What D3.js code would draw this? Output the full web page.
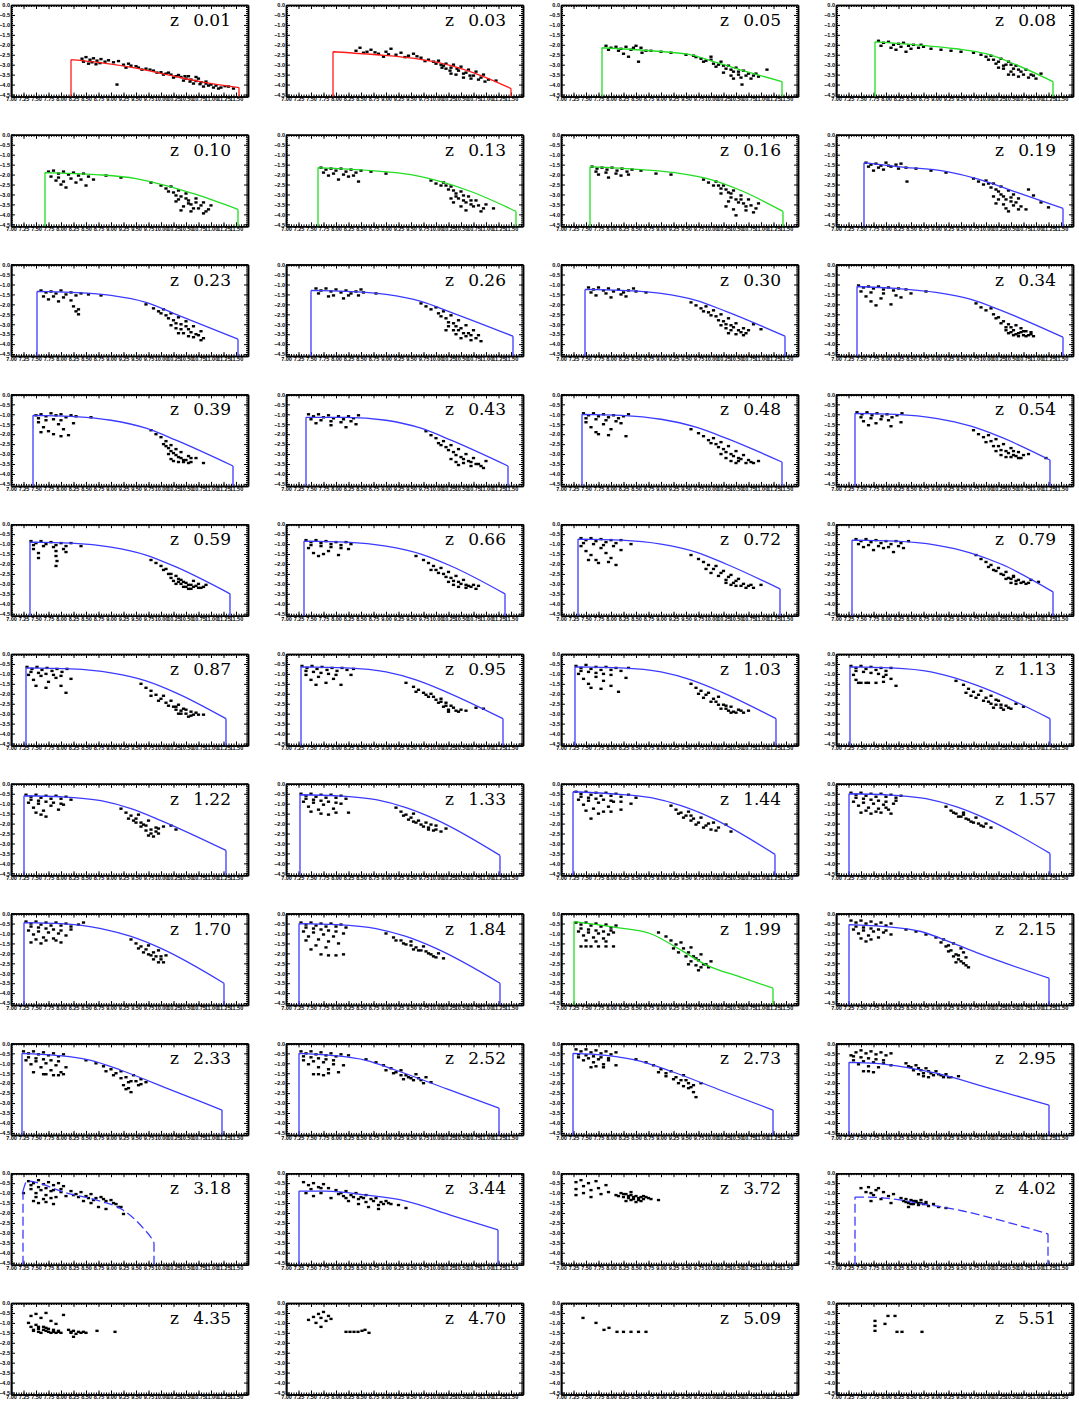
<!DOCTYPE html>
<html>
<head>
<meta charset="utf-8">
<script src="https://cdn.jsdelivr.net/npm/d3@7"></script>
<style>
body { margin: 0; background: #fff; }
</style>
</head>
<body>
<div id="chart"></div>
<script>
// redshift of each panel
const zLabels = ["0.01","0.03","0.05","0.08","0.10","0.13","0.16","0.19","0.23","0.26","0.30","0.34",
  "0.39","0.43","0.48","0.54","0.59","0.66","0.72","0.79","0.87","0.95","1.03","1.13",
  "1.22","1.33","1.44","1.57","1.70","1.84","1.99","2.15","2.33","2.52","2.73","2.95",
  "3.18","3.44","3.72","4.02","4.35","4.70","5.09","5.51"];

// which fit set the curve belongs to ("" = no fit)
const fitSet = ["A","A","B","B","B","B","B","C","C","C","C","C",
  "C","C","C","C","C","C","C","C","C","C","C","C",
  "C","C","C","C","C","C","B","C","C","C","C","C",
  "C","C","","C","","","",""];
const fitDashed = [36, 39];

const xTicks = [7,7.25,7.5,7.75,8,8.25,8.5,8.75,9,9.25,9.5,9.75,10,10.25,10.5,10.75,11,11.25,11.5];
const yTicks = [0,-0.5,-1,-1.5,-2,-2.5,-3,-3.5,-4,-4.5];

const fitCurves = [
  [[8.20,-2.75],[8.78,-2.90],[9.44,-3.15],[10.12,-3.50],[10.78,-3.85],[11.56,-4.15]],
  [[7.94,-2.35],[8.80,-2.50],[9.60,-2.70],[10.30,-3.05],[10.90,-3.55],[11.50,-4.20]],
  [[7.82,-2.15],[8.78,-2.30],[9.58,-2.50],[10.12,-2.90],[10.78,-3.40],[11.42,-3.85]],
  [[7.78,-1.85],[8.60,-2.00],[9.40,-2.20],[10.00,-2.45],[10.60,-3.00],[11.34,-3.85]],
  [[7.68,-1.90],[8.70,-2.00],[9.50,-2.20],[10.10,-2.55],[10.70,-3.00],[11.54,-3.75]],
  [[7.64,-1.65],[8.70,-1.80],[9.50,-2.00],[10.10,-2.35],[10.70,-2.85],[11.60,-3.85]],
  [[7.58,-1.60],[8.60,-1.75],[9.40,-1.95],[10.00,-2.25],[10.60,-2.80],[11.44,-3.85]],
  [[7.56,-1.40],[8.22,-1.60],[9.22,-1.85],[9.88,-2.25],[10.62,-2.90],[11.54,-3.70]],
  [[7.52,-1.35],[8.20,-1.40],[9.00,-1.55],[9.70,-1.90],[10.30,-2.50],[11.54,-3.75]],
  [[7.50,-1.30],[8.20,-1.35],[9.00,-1.50],[9.70,-1.85],[10.30,-2.40],[11.54,-3.60]],
  [[7.48,-1.25],[8.20,-1.30],[9.00,-1.45],[9.70,-1.80],[10.30,-2.35],[11.48,-3.60]],
  [[7.42,-1.10],[8.20,-1.20],[9.00,-1.40],[9.70,-1.75],[10.30,-2.30],[11.54,-3.65]],
  [[7.44,-1.05],[8.20,-1.10],[9.00,-1.30],[9.70,-1.70],[10.30,-2.30],[11.44,-3.60]],
  [[7.40,-1.15],[8.20,-1.15],[9.00,-1.30],[9.70,-1.70],[10.30,-2.30],[11.44,-3.60]],
  [[7.42,-1.00],[8.20,-1.05],[9.00,-1.25],[9.70,-1.65],[10.30,-2.20],[11.42,-3.40]],
  [[7.38,-0.95],[8.20,-1.00],[9.00,-1.20],[9.70,-1.60],[10.30,-2.15],[11.28,-3.30]],
  [[7.38,-0.90],[8.20,-0.95],[9.00,-1.15],[9.70,-1.55],[10.30,-2.15],[11.38,-3.50]],
  [[7.36,-0.85],[8.20,-0.90],[9.00,-1.10],[9.70,-1.50],[10.30,-2.10],[11.38,-3.50]],
  [[7.34,-0.75],[8.20,-0.80],[9.00,-1.00],[9.70,-1.40],[10.30,-2.00],[11.38,-3.25]],
  [[7.32,-0.80],[8.20,-0.85],[9.00,-1.05],[9.70,-1.45],[10.30,-2.00],[11.34,-3.40]],
  [[7.30,-0.70],[8.20,-0.75],[9.00,-0.95],[9.70,-1.35],[10.30,-1.95],[11.30,-3.25]],
  [[7.30,-0.65],[8.20,-0.70],[9.00,-0.90],[9.60,-1.30],[10.20,-1.90],[11.34,-3.25]],
  [[7.28,-0.65],[8.20,-0.70],[9.00,-0.90],[9.60,-1.30],[10.20,-1.90],[11.30,-3.25]],
  [[7.28,-0.65],[8.10,-0.70],[8.90,-0.90],[9.50,-1.30],[10.10,-1.85],[11.28,-3.25]],
  [[7.26,-0.60],[8.00,-0.65],[8.80,-0.85],[9.40,-1.25],[10.00,-1.85],[11.30,-3.35]],
  [[7.28,-0.55],[8.00,-0.60],[8.80,-0.80],[9.40,-1.20],[10.00,-1.80],[11.28,-3.60]],
  [[7.24,-0.40],[8.00,-0.50],[8.80,-0.70],[9.40,-1.10],[10.00,-1.70],[11.28,-3.55]],
  [[7.26,-0.50],[8.00,-0.55],[8.80,-0.75],[9.40,-1.15],[10.00,-1.75],[11.28,-3.50]],
  [[7.26,-0.45],[8.00,-0.50],[8.80,-0.75],[9.40,-1.15],[10.00,-1.75],[11.26,-3.50]],
  [[7.26,-0.50],[8.00,-0.55],[8.80,-0.75],[9.40,-1.15],[10.00,-1.75],[11.28,-3.50]],
  [[7.26,-0.40],[8.12,-0.70],[8.78,-1.00],[9.44,-1.90],[9.92,-2.60],[10.58,-3.18],[11.24,-3.75]],
  [[7.26,-0.55],[8.00,-0.65],[8.70,-0.90],[9.30,-1.45],[9.80,-1.95],[11.26,-3.25]],
  [[7.22,-0.50],[7.90,-0.60],[8.60,-0.85],[9.20,-1.35],[10.21,-2.35],[11.22,-3.35]],
  [[7.26,-0.50],[7.90,-0.60],[8.60,-0.85],[9.20,-1.35],[10.23,-2.30],[11.26,-3.25]],
  [[7.24,-0.50],[7.90,-0.60],[8.60,-0.90],[9.20,-1.40],[10.22,-2.38],[11.24,-3.35]],
  [[7.26,-0.95],[7.80,-1.00],[8.40,-1.20],[9.00,-1.50],[10.13,-2.30],[11.26,-3.10]],
  [[7.24,-0.90],[7.32,-0.40],[8.12,-1.00],[8.78,-1.40],[9.24,-1.85],[9.64,-2.75],[9.84,-3.40],[9.86,-3.50]],
  [[7.26,-0.90],[7.80,-0.90],[8.60,-1.10],[9.40,-1.40],[10.32,-2.13],[11.24,-2.85]],
  null,
  [[7.38,-1.20],[7.62,-1.20],[8.88,-1.60],[9.54,-1.90],[10.62,-2.60],[11.24,-3.05]],
  null, null, null, null
];

// galaxy points per panel, flattened as x,y,x,y,...
const galaxyPoints = [
  [8.42,-2.70,8.50,-2.62,8.58,-2.75,8.65,-2.68,8.72,-2.80,8.80,-2.72,8.88,-2.85,8.95,-2.78,8.55,-2.95,8.70,-2.98,9.05,-2.88,9.15,-2.82,
   9.25,-3.00,9.40,-3.05,9.55,-3.15,9.70,-3.20,9.85,-3.30,10.00,-3.38,10.10,-3.45,10.20,-3.50,10.30,-3.58,10.40,-3.62,10.50,-3.70,10.60,-3.75,
   10.70,-3.82,10.80,-3.88,10.90,-3.95,11.00,-4.00,11.10,-4.05,10.25,-3.65,10.45,-3.80,10.65,-3.95,10.85,-4.10,11.05,-4.15,11.20,-4.15,
   11.35,-4.10,11.45,-4.20,10.55,-3.58,10.75,-3.70,9.30,-3.15,9.12,-4.00,
   8.45,-2.85,8.62,-2.88,8.78,-2.92,9.35,-2.95,9.50,-3.08,9.62,-3.25,9.78,-3.25,9.92,-3.40,10.05,-3.50,10.15,-3.40,10.35,-3.52,10.48,-3.58,
   10.58,-3.85,10.78,-3.98,10.95,-4.05,11.15,-4.20,11.28,-4.08,10.90,-3.85,10.70,-3.62],
  [8.40,-2.30,8.55,-2.40,8.70,-2.25,8.85,-2.45,9.00,-2.35,9.10,-2.20,9.20,-2.50,9.30,-2.40,9.45,-2.55,9.55,-2.45,8.95,-2.60,9.70,-2.65,
   9.85,-2.75,9.95,-2.85,10.05,-2.80,10.10,-3.00,10.20,-2.95,10.30,-3.15,10.35,-3.00,10.45,-3.30,10.50,-3.10,10.60,-3.40,10.65,-3.25,
   10.75,-3.55,10.80,-3.35,10.90,-3.65,10.95,-3.50,11.05,-3.75,10.40,-3.50,10.70,-3.70,10.20,-3.20,11.20,-3.80,
   8.48,-2.15,8.62,-2.35,8.78,-2.38,9.05,-2.48,9.38,-2.62,9.62,-2.58,9.78,-2.82,10.00,-2.95,10.12,-3.15,10.28,-3.30,10.42,-3.20,10.55,-3.45,
   10.68,-3.55,10.85,-3.75,10.98,-3.85,10.55,-3.65,10.30,-3.45,10.15,-3.05],
  [7.90,-2.05,8.00,-2.15,8.10,-2.10,8.20,-2.20,8.30,-2.10,8.40,-2.25,8.50,-2.05,8.60,-2.15,8.70,-2.30,8.25,-2.45,8.35,-2.60,8.55,-2.85,
   8.80,-2.30,9.00,-2.35,9.20,-2.40,9.50,-2.50,9.65,-2.55,9.80,-2.70,9.90,-2.80,10.00,-2.75,10.05,-2.95,10.15,-3.00,10.20,-2.85,10.30,-3.20,
   10.35,-3.05,10.45,-3.35,10.50,-3.15,10.55,-3.50,10.65,-3.30,10.75,-3.45,10.85,-3.55,10.95,-3.60,10.62,-4.00,11.12,-3.25,10.40,-3.55,
   7.95,-2.25,8.15,-2.30,8.45,-2.15,8.62,-2.40,9.70,-2.62,9.85,-2.85,10.10,-3.10,10.25,-3.05,10.40,-3.25,10.55,-3.35,10.60,-3.65,10.70,-3.55,
   10.80,-3.70,10.45,-3.70,10.25,-3.40,10.90,-3.45,10.00,-2.60],
  [7.85,-1.80,7.95,-1.90,8.05,-1.85,8.15,-2.00,8.25,-1.95,8.35,-1.90,8.45,-2.05,8.55,-2.00,8.65,-2.15,8.75,-2.10,8.20,-2.25,8.40,-2.35,
   8.90,-2.20,9.10,-2.25,9.30,-2.30,9.50,-2.35,9.75,-2.40,9.90,-2.50,10.00,-2.60,10.10,-2.55,10.15,-2.75,10.25,-2.85,10.30,-2.70,10.40,-3.00,
   10.45,-2.85,10.55,-3.20,10.60,-3.05,10.70,-3.35,10.80,-3.25,10.90,-3.50,10.35,-3.20,10.65,-3.60,11.00,-3.70,11.10,-3.45,
   7.90,-2.05,8.10,-2.15,8.30,-2.10,8.50,-2.20,8.70,-2.00,10.05,-2.75,10.20,-2.95,10.35,-3.05,10.50,-3.00,10.50,-3.35,10.65,-3.25,10.75,-3.50,
   10.85,-3.65,10.95,-3.55,10.55,-3.50,10.25,-3.15,10.45,-3.50],
  [7.75,-1.85,7.85,-1.80,7.95,-1.95,8.05,-1.85,8.15,-2.00,8.25,-1.90,8.35,-2.05,8.45,-1.95,8.55,-2.10,7.90,-2.30,8.00,-2.50,8.10,-2.65,
   8.30,-2.40,8.50,-2.55,8.65,-2.25,8.90,-2.05,9.20,-2.15,9.80,-2.40,10.00,-2.55,10.10,-2.70,10.20,-2.60,10.25,-2.90,10.35,-2.80,10.40,-3.10,
   10.50,-2.95,10.55,-3.30,10.60,-3.50,10.70,-3.20,10.75,-3.70,10.85,-3.40,10.45,-3.60,10.30,-3.35,10.90,-3.85,11.00,-3.55,
   7.80,-2.10,7.95,-2.15,8.05,-2.35,8.20,-2.20,8.40,-2.25,10.15,-2.85,10.30,-3.05,10.35,-3.25,10.50,-3.20,10.55,-3.45,10.65,-3.70,10.70,-3.40,
   10.80,-3.55,10.60,-3.85,10.40,-3.80,10.85,-3.95,10.95,-3.75],
  [7.70,-1.65,7.80,-1.75,7.90,-1.70,8.00,-1.80,8.10,-1.70,8.20,-1.85,8.30,-1.75,8.40,-1.90,8.50,-1.80,7.85,-2.05,8.05,-2.25,8.25,-2.10,
   8.45,-2.35,8.70,-1.85,9.00,-1.95,9.90,-2.30,10.00,-2.45,10.10,-2.55,10.15,-2.40,10.25,-2.75,10.30,-2.60,10.40,-2.95,10.45,-3.20,
   10.50,-2.85,10.60,-3.40,10.65,-3.10,10.75,-3.60,10.80,-3.30,10.90,-3.85,11.00,-3.50,11.15,-3.70,10.35,-3.40,
   7.75,-1.90,7.95,-1.95,8.15,-2.00,8.35,-2.05,10.20,-2.55,10.35,-2.80,10.40,-3.10,10.55,-3.05,10.55,-3.30,10.70,-3.30,10.70,-3.50,
   10.85,-3.55,10.50,-3.60,10.30,-3.20,10.95,-3.70,10.60,-3.80],
  [7.62,-1.60,7.72,-1.70,7.82,-1.65,7.92,-1.75,8.02,-1.65,8.12,-1.80,8.22,-1.70,8.32,-1.85,8.42,-1.75,7.75,-2.00,7.95,-2.15,8.20,-2.05,
   8.60,-1.80,8.90,-1.95,9.20,-2.00,9.85,-2.25,9.95,-2.40,10.05,-2.55,10.10,-2.35,10.20,-2.70,10.25,-2.55,10.35,-2.90,10.40,-3.15,
   10.45,-2.80,10.55,-3.40,10.60,-3.05,10.70,-3.60,10.75,-3.25,10.85,-3.90,10.95,-3.45,10.30,-3.60,10.50,-4.05,
   7.70,-1.85,7.90,-1.90,8.10,-1.95,8.35,-2.00,10.15,-2.55,10.30,-2.75,10.40,-2.95,10.50,-3.25,10.60,-3.25,10.65,-3.45,10.80,-3.55,
   10.70,-3.80,10.45,-3.75,10.35,-3.35,10.90,-3.70,10.20,-2.95],
  [7.60,-1.40,7.70,-1.50,7.80,-1.45,7.90,-1.55,8.00,-1.40,8.10,-1.60,8.20,-1.50,8.30,-1.45,8.40,-1.65,7.75,-1.80,7.95,-1.75,8.42,-2.35,
   8.60,-1.70,8.90,-1.80,9.20,-1.90,9.75,-2.20,9.85,-2.35,9.95,-2.50,10.00,-2.30,10.10,-2.65,10.15,-2.45,10.25,-2.85,10.30,-2.60,
   10.35,-3.10,10.45,-2.80,10.50,-3.35,10.55,-3.00,10.65,-3.20,10.70,-3.60,10.20,-3.45,10.40,-3.70,10.85,-2.75,10.95,-3.05,11.10,-3.40,
   11.25,-3.65,10.80,-3.75,
   7.65,-1.60,7.85,-1.65,8.05,-1.55,8.25,-1.70,10.05,-2.45,10.20,-2.75,10.30,-3.00,10.40,-3.25,10.50,-3.15,10.55,-3.55,10.60,-3.40,
   10.25,-3.25,10.35,-3.50,10.45,-3.85,10.65,-3.75,10.15,-3.10],
  [7.60,-1.30,7.70,-1.40,7.80,-1.35,7.90,-1.45,8.00,-1.30,8.10,-1.50,8.20,-1.40,8.30,-1.55,8.40,-1.45,7.75,-1.75,7.95,-1.85,8.25,-2.10,
   8.30,-2.35,8.35,-2.50,8.55,-1.50,8.80,-1.55,9.70,-2.00,9.85,-2.20,9.95,-2.35,10.05,-2.25,10.10,-2.55,10.20,-2.45,10.25,-2.80,10.35,-2.65,
   10.40,-3.00,10.50,-2.85,10.55,-3.25,10.65,-3.10,10.70,-3.50,10.80,-3.35,10.85,-3.70,10.45,-3.45,10.30,-3.20,
   7.65,-1.60,7.85,-1.60,8.05,-1.65,8.20,-1.80,8.35,-2.25,10.00,-2.45,10.15,-2.70,10.30,-2.95,10.40,-3.25,10.50,-3.10,10.60,-3.40,
   10.65,-3.65,10.75,-3.55,10.55,-3.60,10.35,-3.45,10.20,-3.05,10.80,-3.80],
  [7.60,-1.20,7.70,-1.30,7.80,-1.20,7.90,-1.35,8.00,-1.25,8.10,-1.40,8.20,-1.30,8.30,-1.45,8.40,-1.35,8.50,-1.25,7.85,-1.60,8.15,-1.70,
   8.45,-1.55,8.80,-1.45,9.70,-1.95,9.80,-2.10,9.90,-2.25,10.00,-2.15,10.05,-2.45,10.15,-2.35,10.20,-2.70,10.30,-2.55,10.35,-2.95,
   10.45,-2.80,10.50,-3.20,10.60,-3.05,10.65,-3.45,10.75,-3.30,10.80,-3.70,10.90,-3.85,10.40,-3.50,10.25,-3.10,
   7.65,-1.45,7.95,-1.55,8.25,-1.55,8.55,-1.40,10.10,-2.60,10.25,-2.90,10.40,-3.10,10.45,-3.30,10.55,-3.45,10.60,-3.60,10.70,-3.55,
   10.70,-3.80,10.35,-3.30,10.50,-3.70,10.20,-3.30,10.85,-3.55],
  [7.55,-1.15,7.65,-1.25,7.75,-1.15,7.85,-1.30,7.95,-1.20,8.05,-1.35,8.15,-1.25,8.25,-1.40,8.35,-1.30,8.45,-1.20,7.70,-1.55,8.00,-1.65,
   8.30,-1.60,8.70,-1.40,9.60,-1.90,9.70,-2.05,9.80,-2.20,9.90,-2.10,9.95,-2.40,10.05,-2.30,10.10,-2.60,10.20,-2.50,10.25,-2.85,10.35,-2.70,
   10.40,-3.05,10.50,-2.95,10.55,-3.30,10.65,-3.20,10.70,-3.45,10.30,-3.20,10.85,-3.00,11.00,-3.25,
   7.60,-1.40,7.90,-1.45,8.20,-1.50,8.50,-1.35,9.85,-2.35,10.00,-2.55,10.15,-2.80,10.30,-3.00,10.40,-3.30,10.45,-3.15,10.60,-3.40,
   10.50,-3.50,10.35,-3.45,10.75,-3.30,10.20,-3.05,10.65,-3.55],
  [7.45,-1.05,7.55,-1.15,7.65,-1.10,7.75,-1.20,7.85,-1.10,7.95,-1.25,8.05,-1.15,8.15,-1.30,8.25,-1.20,8.40,-1.25,7.60,-1.60,7.70,-1.85,
   7.90,-1.70,8.10,-2.00,8.30,-1.65,8.50,-1.45,8.80,-1.35,9.80,-1.95,9.90,-2.15,10.00,-2.30,10.10,-2.20,10.15,-2.50,10.25,-2.65,10.35,-2.85,
   10.45,-3.00,10.50,-3.15,10.55,-3.30,10.60,-3.05,10.65,-3.45,10.70,-3.20,10.75,-3.55,10.80,-3.35,10.90,-3.50,10.95,-3.60,10.40,-3.30,
   7.50,-1.35,7.70,-1.40,7.95,-1.45,8.20,-1.55,7.80,-2.05,10.20,-2.70,10.30,-2.95,10.40,-3.15,10.50,-3.40,10.60,-3.50,10.70,-3.40,
   10.75,-3.35,10.85,-3.55,10.65,-3.60,10.80,-3.60,10.55,-3.55,10.45,-3.45,10.90,-3.40],
  [7.50,-1.05,7.60,-1.00,7.70,-1.10,7.80,-0.95,7.90,-1.05,8.00,-1.00,8.10,-1.15,8.20,-1.05,8.30,-1.10,7.55,-1.40,7.65,-1.65,7.75,-1.85,
   7.95,-1.50,8.05,-1.75,8.15,-2.05,8.25,-1.45,8.60,-1.15,9.80,-1.80,9.90,-2.00,10.00,-2.15,10.05,-2.50,10.10,-2.35,10.15,-2.70,10.20,-2.55,
   10.25,-2.95,10.30,-2.75,10.35,-3.15,10.40,-2.90,10.45,-3.30,10.55,-3.10,10.60,-3.40,10.20,-3.25,10.70,-3.20,10.85,-3.45,
   7.55,-1.20,7.70,-1.30,7.85,-1.25,8.00,-1.30,7.60,-1.90,7.85,-2.00,8.00,-2.10,10.10,-2.60,10.20,-2.85,10.30,-3.05,10.40,-3.20,10.50,-3.30,
   10.25,-3.35,10.45,-3.40,10.35,-3.40,10.55,-3.45,10.15,-3.00,10.60,-3.20],
  [7.45,-1.00,7.55,-1.10,7.65,-1.00,7.75,-1.15,7.85,-1.05,7.95,-1.20,8.05,-1.10,8.15,-1.25,8.25,-1.10,8.35,-1.20,8.45,-1.05,7.60,-1.45,
   7.90,-1.55,8.20,-1.65,8.40,-1.50,9.80,-1.85,9.90,-2.05,10.00,-2.20,10.05,-2.45,10.15,-2.35,10.20,-2.65,10.30,-2.55,10.35,-2.90,
   10.45,-2.75,10.50,-3.15,10.60,-3.00,10.65,-3.35,10.75,-3.20,10.80,-3.50,10.90,-3.60,10.40,-3.40,11.00,-3.35,
   7.50,-1.25,7.70,-1.30,7.90,-1.35,8.10,-1.40,8.30,-1.35,10.10,-2.55,10.25,-2.80,10.40,-3.05,10.55,-3.25,10.55,-3.45,10.70,-3.40,
   10.70,-3.60,10.45,-3.55,10.30,-3.25,10.85,-3.50,10.95,-3.70],
  [7.45,-0.95,7.55,-1.05,7.65,-0.95,7.75,-1.10,7.85,-1.00,7.95,-1.15,8.05,-1.05,8.15,-1.20,8.25,-1.10,8.35,-1.00,7.50,-1.40,7.60,-1.65,
   7.70,-1.90,7.85,-1.50,8.00,-1.75,8.20,-1.45,8.30,-2.10,9.60,-1.75,9.75,-1.95,9.85,-2.10,9.95,-2.30,10.05,-2.20,10.10,-2.50,10.20,-2.40,
   10.25,-2.75,10.35,-2.60,10.40,-3.00,10.50,-2.85,10.55,-3.20,10.65,-3.05,10.75,-3.30,10.85,-3.45,10.30,-3.20,10.95,-3.35,
   7.50,-1.20,7.70,-1.25,7.90,-1.30,8.10,-1.35,7.75,-2.00,7.95,-2.05,10.00,-2.45,10.15,-2.65,10.30,-2.90,10.45,-3.10,10.55,-3.35,
   10.60,-3.25,10.70,-3.45,10.40,-3.35,10.50,-3.45,10.80,-3.40,10.20,-3.00],
  [7.42,-0.90,7.52,-1.00,7.62,-0.90,7.72,-1.05,7.82,-0.95,7.92,-1.10,8.02,-1.00,8.12,-1.15,8.22,-1.05,8.32,-0.95,7.55,-1.35,7.80,-1.45,
   8.10,-1.60,8.30,-1.40,9.75,-1.80,9.85,-2.00,9.95,-2.15,10.05,-2.05,10.10,-2.35,10.20,-2.25,10.25,-2.60,10.35,-2.50,10.40,-2.85,
   10.50,-2.70,10.55,-3.05,10.65,-2.90,10.70,-3.20,10.40,-3.15,10.85,-3.00,11.20,-3.20,
   7.50,-1.15,7.70,-1.20,7.90,-1.25,8.05,-1.30,7.65,-1.55,10.00,-2.40,10.15,-2.60,10.30,-2.80,10.45,-2.95,10.60,-3.10,10.50,-3.15,
   10.65,-3.20,10.30,-3.05,10.75,-3.05,10.20,-2.85,10.55,-2.85],
  [7.40,-0.85,7.50,-0.95,7.60,-0.85,7.70,-1.00,7.80,-0.90,7.90,-1.05,8.00,-0.95,8.10,-1.10,8.20,-0.95,7.45,-1.25,7.55,-1.45,7.90,-1.35,
   7.90,-1.60,7.92,-1.85,7.90,-2.10,8.10,-1.40,8.40,-1.10,9.80,-1.80,9.90,-1.95,10.00,-2.10,10.10,-2.25,10.15,-2.50,10.20,-2.70,10.25,-2.85,
   10.35,-2.75,10.40,-3.00,10.45,-2.90,10.50,-3.15,10.55,-3.05,10.60,-3.25,10.70,-3.10,10.75,-3.20,10.85,-3.15,10.30,-3.00,10.65,-2.85,
   7.45,-1.05,7.65,-1.10,7.85,-1.15,8.05,-1.25,7.55,-1.70,10.05,-2.30,10.20,-2.50,10.30,-2.60,10.40,-2.80,10.50,-2.95,10.60,-3.05,
   10.65,-3.15,10.80,-3.20,10.90,-3.05,10.45,-3.15,10.55,-3.25,10.75,-3.00,10.35,-2.90],
  [7.40,-0.80,7.50,-0.90,7.60,-0.80,7.70,-0.95,7.80,-0.85,7.90,-1.00,8.00,-0.90,8.10,-1.05,8.20,-0.90,8.30,-1.00,7.45,-1.20,7.55,-1.45,
   7.65,-1.60,7.85,-1.35,8.05,-1.55,8.25,-1.25,9.60,-1.60,9.75,-1.80,9.85,-1.95,9.95,-2.10,10.00,-2.30,10.10,-2.20,10.15,-2.50,10.25,-2.40,
   10.30,-2.70,10.40,-2.60,10.45,-2.90,10.55,-2.80,10.60,-3.05,10.70,-3.15,10.35,-3.05,10.80,-3.25,
   7.50,-1.05,7.70,-1.10,7.90,-1.15,8.10,-1.20,7.75,-1.50,9.90,-2.30,10.05,-2.45,10.20,-2.65,10.35,-2.85,10.50,-3.00,10.65,-3.10,
   10.45,-3.15,10.60,-3.20,10.75,-3.05,10.25,-2.90,10.85,-3.10],
  [7.40,-0.70,7.50,-0.80,7.60,-0.70,7.70,-0.85,7.80,-0.75,7.90,-0.90,8.00,-0.80,8.10,-0.95,8.20,-0.80,7.40,-1.10,7.50,-1.35,7.60,-1.55,
   7.70,-1.80,7.80,-1.20,7.90,-1.45,8.00,-1.70,8.10,-2.05,8.20,-1.30,8.40,-1.00,9.60,-1.55,9.75,-1.75,9.85,-1.90,9.95,-2.05,10.05,-2.25,
   10.10,-2.10,10.20,-2.45,10.25,-2.35,10.35,-2.65,10.40,-2.55,10.50,-2.85,10.55,-2.75,10.65,-3.00,10.75,-3.10,10.85,-3.20,10.30,-2.95,11.00,-3.05,
   7.45,-0.95,7.65,-1.00,7.85,-1.05,8.05,-1.10,7.55,-1.80,7.75,-1.95,7.95,-1.90,9.90,-2.25,10.00,-2.45,10.15,-2.60,10.30,-2.80,10.45,-2.95,
   10.60,-3.10,10.70,-3.20,10.50,-3.10,10.40,-3.05,10.80,-3.05],
  [7.40,-0.75,7.50,-0.85,7.60,-0.75,7.70,-0.90,7.80,-0.80,7.90,-0.95,8.00,-0.85,8.10,-1.00,8.20,-0.85,8.30,-0.95,8.45,-0.85,7.55,-1.15,
   7.75,-1.30,7.95,-1.20,8.15,-1.40,8.35,-1.20,9.80,-1.55,9.90,-1.75,10.00,-1.90,10.10,-2.05,10.15,-2.30,10.25,-2.20,10.30,-2.50,10.40,-2.40,
   10.45,-2.70,10.55,-2.60,10.60,-2.85,10.70,-2.95,10.80,-3.00,10.50,-2.95,10.90,-2.80,11.05,-2.90,
   7.45,-1.00,7.65,-1.05,7.85,-1.10,8.05,-1.15,8.25,-1.10,10.05,-2.15,10.20,-2.35,10.35,-2.55,10.50,-2.75,10.65,-2.80,10.75,-2.90,
   10.60,-3.00,10.40,-2.75,10.85,-2.95,10.55,-2.65],
  [7.32,-0.65,7.42,-0.75,7.52,-0.65,7.62,-0.80,7.72,-0.70,7.82,-0.85,7.92,-0.75,8.02,-0.90,8.12,-0.75,7.35,-1.05,7.45,-1.30,7.60,-1.10,
   7.75,-1.40,7.90,-1.20,8.00,-1.60,8.10,-1.95,8.20,-1.25,9.60,-1.50,9.70,-1.70,9.80,-1.85,9.90,-2.05,10.00,-2.25,10.05,-2.10,10.10,-2.45,
   10.20,-2.35,10.25,-2.65,10.30,-2.80,10.35,-2.55,10.40,-3.00,10.45,-2.75,10.55,-3.15,10.60,-2.90,10.70,-2.95,10.85,-3.05,
   7.40,-0.90,7.55,-0.95,7.70,-1.00,7.85,-1.05,8.00,-1.10,7.50,-1.60,7.70,-1.70,9.80,-2.10,9.95,-2.35,10.15,-2.60,10.30,-2.65,10.40,-2.85,
   10.50,-3.00,10.60,-3.10,10.65,-3.05,10.35,-3.00,10.75,-3.05,10.50,-2.80],
  [7.32,-0.60,7.42,-0.70,7.52,-0.60,7.62,-0.75,7.72,-0.65,7.82,-0.80,7.92,-0.70,8.02,-0.85,8.12,-0.70,8.22,-0.80,8.35,-0.75,7.40,-1.05,
   7.50,-1.30,7.65,-1.15,7.80,-1.45,7.95,-1.25,8.10,-1.55,8.30,-1.05,9.40,-1.45,9.55,-1.65,9.65,-1.80,9.75,-1.95,9.85,-2.15,9.90,-2.00,
   10.00,-2.30,10.05,-2.45,10.10,-2.25,10.20,-2.60,10.25,-2.80,10.35,-2.70,10.45,-2.90,10.60,-2.85,10.80,-2.70,10.95,-2.75,
   7.40,-0.85,7.55,-0.90,7.70,-0.95,7.85,-1.00,8.00,-1.05,7.60,-1.55,9.60,-1.90,9.80,-2.05,9.95,-2.15,10.10,-2.40,10.15,-2.65,10.30,-2.60,
   10.40,-2.85,10.25,-2.90,10.50,-2.80,10.20,-2.45],
  [7.30,-0.60,7.40,-0.70,7.50,-0.55,7.60,-0.75,7.70,-0.65,7.80,-0.80,7.90,-0.65,8.00,-0.80,8.10,-0.70,8.20,-0.85,8.35,-0.70,7.35,-1.00,
   7.45,-1.25,7.55,-1.50,7.70,-1.15,7.85,-1.35,8.00,-1.60,8.15,-1.90,8.30,-1.20,9.60,-1.50,9.70,-1.70,9.80,-1.85,9.90,-2.05,9.95,-1.95,
   10.05,-2.25,10.10,-2.40,10.15,-2.15,10.25,-2.55,10.30,-2.75,10.40,-2.65,10.45,-2.90,10.55,-2.80,10.65,-2.95,10.75,-2.85,
   7.40,-0.85,7.55,-0.90,7.70,-0.95,7.85,-1.00,8.00,-1.05,7.60,-1.70,7.80,-1.75,9.75,-2.00,9.85,-2.20,10.00,-2.40,10.15,-2.55,10.20,-2.75,
   10.35,-2.85,10.50,-2.95,10.40,-2.95,10.60,-2.85,10.30,-2.60],
  [7.30,-0.60,7.40,-0.70,7.50,-0.60,7.60,-0.75,7.70,-0.65,7.80,-0.80,7.90,-0.70,8.00,-0.85,8.10,-0.70,7.35,-1.05,7.40,-1.30,7.50,-1.45,
   7.65,-1.45,7.80,-1.45,7.95,-1.40,7.95,-1.15,8.10,-1.25,8.20,-1.60,9.40,-1.35,9.55,-1.55,9.65,-1.75,9.75,-1.90,9.85,-2.05,9.90,-1.85,
   10.00,-2.20,10.05,-2.40,10.10,-2.10,10.20,-2.55,10.25,-2.35,10.30,-2.70,10.40,-2.60,10.50,-2.75,10.60,-2.50,10.75,-2.65,
   7.40,-0.85,7.55,-0.90,7.70,-0.95,7.85,-1.00,8.00,-1.05,7.60,-1.45,7.45,-1.45,9.60,-1.95,9.80,-2.20,9.95,-2.35,10.10,-2.50,10.15,-2.70,
   10.30,-2.55,10.35,-2.80,10.45,-2.70,10.20,-2.30,9.70,-2.10],
  [7.30,-0.55,7.40,-0.65,7.50,-0.55,7.60,-0.70,7.70,-0.60,7.80,-0.75,7.90,-0.60,8.00,-0.75,8.10,-0.65,8.20,-0.80,7.35,-0.95,7.45,-1.20,
   7.55,-1.00,7.65,-1.35,7.80,-1.10,7.95,-1.30,8.05,-1.05,7.70,-1.65,9.20,-1.25,9.30,-1.45,9.40,-1.60,9.50,-1.75,9.55,-1.55,9.60,-1.95,
   9.70,-2.10,9.75,-1.85,9.80,-2.30,9.90,-2.20,9.95,-2.50,9.85,-2.65,10.05,-2.15,10.20,-2.10,10.30,-2.30,
   7.40,-0.80,7.55,-0.85,7.70,-0.90,7.85,-0.95,8.00,-1.00,7.50,-1.45,7.60,-1.55,9.35,-1.75,9.50,-1.95,9.60,-2.15,9.70,-2.35,9.80,-2.50,
   9.90,-2.40,9.75,-2.60,9.65,-2.05,9.95,-2.25,9.45,-1.85],
  [7.30,-0.50,7.40,-0.60,7.50,-0.50,7.60,-0.65,7.70,-0.55,7.80,-0.70,7.90,-0.55,8.00,-0.70,8.10,-0.60,8.20,-0.75,7.35,-0.90,7.45,-1.15,
   7.55,-0.95,7.65,-1.30,7.75,-1.05,7.85,-1.55,7.95,-1.25,8.10,-1.00,8.25,-1.45,9.20,-1.20,9.30,-1.40,9.40,-1.55,9.50,-1.70,9.55,-1.50,
   9.65,-1.85,9.70,-2.05,9.80,-1.95,9.85,-2.20,9.95,-2.35,10.00,-2.10,10.10,-2.40,10.20,-2.25,
   7.40,-0.75,7.55,-0.80,7.70,-0.85,7.85,-0.90,8.00,-0.95,7.50,-1.40,7.70,-1.50,8.00,-1.45,9.35,-1.60,9.45,-1.80,9.60,-1.95,9.75,-2.15,
   9.85,-2.30,9.90,-2.05,10.00,-2.30,9.55,-1.90],
  [7.30,-0.40,7.40,-0.50,7.50,-0.40,7.60,-0.55,7.70,-0.45,7.80,-0.60,7.90,-0.45,8.00,-0.60,8.10,-0.50,8.20,-0.65,8.35,-0.55,8.50,-0.70,
   7.35,-0.80,7.45,-1.05,7.55,-0.85,7.65,-1.25,7.75,-0.95,7.85,-1.40,7.95,-1.15,8.05,-0.90,8.20,-1.30,8.40,-1.00,7.60,-1.75,9.20,-1.10,
   9.30,-1.30,9.40,-1.45,9.50,-1.60,9.55,-1.40,9.65,-1.75,9.75,-1.95,9.80,-1.70,9.90,-2.10,10.00,-2.30,10.05,-1.95,10.15,-2.20,10.30,-2.05,10.40,-2.40,
   7.40,-0.65,7.55,-0.70,7.70,-0.75,7.85,-0.80,8.00,-0.85,8.20,-0.90,7.50,-1.35,7.75,-1.50,8.00,-1.40,9.35,-1.50,9.45,-1.70,9.60,-1.85,
   9.70,-2.05,9.85,-2.20,9.95,-2.00,9.60,-1.60,10.10,-2.35],
  [7.30,-0.45,7.40,-0.55,7.50,-0.45,7.60,-0.60,7.70,-0.50,7.80,-0.65,7.90,-0.50,8.00,-0.65,8.10,-0.55,8.20,-0.70,8.30,-0.60,7.35,-0.90,
   7.45,-1.10,7.55,-0.95,7.65,-1.20,7.75,-1.00,7.85,-1.25,7.95,-1.05,8.05,-1.30,8.15,-1.00,7.50,-1.45,7.70,-1.50,7.90,-1.45,8.10,-1.50,
   9.20,-1.15,9.30,-1.35,9.40,-1.50,9.50,-1.65,9.55,-1.45,9.65,-1.80,9.75,-1.95,9.80,-1.70,9.90,-2.10,10.00,-2.00,10.10,-2.20,
   7.40,-0.70,7.55,-0.75,7.70,-0.80,7.85,-0.85,8.00,-0.90,8.20,-0.85,7.60,-1.35,7.80,-1.40,8.00,-1.20,9.35,-1.45,9.45,-1.65,9.60,-1.75,
   9.70,-1.90,9.85,-2.00,9.95,-2.15,9.55,-1.55],
  [7.30,-0.40,7.40,-0.50,7.50,-0.40,7.60,-0.55,7.70,-0.45,7.80,-0.60,7.90,-0.45,8.00,-0.60,8.10,-0.50,8.20,-0.65,8.35,-0.55,8.45,-0.45,
   7.35,-0.85,7.45,-1.05,7.55,-0.90,7.65,-1.20,7.75,-0.95,7.85,-1.25,7.95,-1.00,8.10,-1.10,7.40,-1.45,7.60,-1.50,8.00,-1.45,9.40,-1.30,
   9.50,-1.50,9.60,-1.65,9.70,-1.80,9.75,-1.60,9.85,-1.95,9.90,-2.15,9.95,-1.85,10.00,-2.30,10.05,-2.45,10.10,-2.10,
   7.40,-0.65,7.55,-0.70,7.70,-0.75,7.85,-0.80,8.00,-0.85,8.20,-0.80,7.50,-1.30,7.70,-1.35,7.90,-1.35,9.55,-1.75,9.65,-1.95,9.80,-2.10,
   9.85,-2.30,9.95,-2.45,10.00,-2.15,9.75,-2.05],
  [7.30,-0.45,7.40,-0.55,7.50,-0.45,7.60,-0.60,7.70,-0.50,7.80,-0.65,7.90,-0.50,8.00,-0.65,8.10,-0.55,8.20,-0.70,7.35,-0.90,7.45,-1.15,
   7.55,-0.95,7.65,-1.30,7.75,-1.05,7.85,-1.40,7.95,-1.15,8.05,-1.50,8.15,-1.00,7.50,-1.80,7.70,-2.05,7.85,-2.10,8.00,-2.10,8.15,-2.05,
   9.00,-1.00,9.15,-1.20,9.30,-1.35,9.40,-1.55,9.50,-1.40,9.60,-1.70,9.70,-1.85,9.75,-1.65,9.85,-2.00,9.95,-2.15,10.05,-2.00,10.15,-2.25,
   7.40,-0.70,7.55,-0.75,7.70,-0.80,7.85,-0.85,8.00,-0.90,7.60,-1.60,7.80,-1.70,7.40,-1.35,9.20,-1.35,9.35,-1.50,9.50,-1.60,9.65,-1.85,
   9.80,-1.90,9.90,-2.05,10.00,-2.20,9.55,-1.80],
  [7.30,-0.45,7.40,-0.55,7.50,-0.45,7.60,-0.60,7.70,-0.50,7.80,-0.65,7.90,-0.55,8.00,-0.70,8.10,-0.60,7.35,-0.90,7.45,-1.10,7.55,-0.95,
   7.65,-1.20,7.75,-1.00,7.85,-1.25,7.95,-1.05,8.05,-0.95,7.40,-1.65,7.50,-1.65,7.60,-1.65,7.75,-1.65,7.90,-1.65,8.05,-1.65,8.95,-0.95,
   9.10,-1.15,9.20,-1.35,9.30,-1.55,9.40,-1.45,9.45,-1.75,9.55,-1.95,9.60,-1.70,9.65,-2.15,9.75,-2.35,9.80,-2.05,9.85,-2.55,9.95,-2.70,
   10.00,-2.40,9.70,-2.60,
   7.40,-0.75,7.55,-0.80,7.70,-0.85,7.85,-0.90,8.00,-0.85,7.50,-1.35,7.70,-1.40,7.90,-1.40,9.25,-1.75,9.35,-1.95,9.50,-2.15,9.60,-2.40,
   9.70,-2.25,9.80,-2.70,9.90,-2.55,9.55,-2.55,9.75,-2.85],
  [7.30,-0.35,7.40,-0.45,7.50,-0.35,7.60,-0.50,7.70,-0.40,7.80,-0.55,7.90,-0.45,8.00,-0.60,8.10,-0.50,7.35,-0.80,7.45,-1.00,7.55,-0.85,
   7.65,-1.10,7.75,-0.90,7.85,-1.20,7.95,-0.95,8.10,-1.05,7.60,-1.40,8.40,-0.80,8.60,-0.90,8.80,-1.05,9.00,-1.20,9.10,-1.45,9.15,-1.30,
   9.25,-1.60,9.30,-1.85,9.35,-1.50,9.40,-2.05,9.45,-2.30,9.50,-1.75,9.55,-2.50,9.60,-2.20,9.65,-2.70,
   7.40,-0.65,7.55,-0.70,7.70,-0.75,7.85,-0.80,8.00,-0.85,7.50,-1.25,7.70,-1.30,9.20,-1.65,9.25,-1.90,9.35,-2.15,9.45,-2.10,9.50,-2.40,
   9.55,-1.95,9.40,-2.45,9.60,-2.60],
  [7.25,-0.40,7.35,-0.50,7.45,-0.40,7.55,-0.55,7.65,-0.45,7.75,-0.60,7.85,-0.50,7.95,-0.65,8.05,-0.55,7.30,-0.85,7.40,-1.05,7.50,-0.90,
   7.60,-1.20,7.70,-1.00,7.80,-1.35,7.90,-1.10,8.00,-1.45,8.10,-1.20,7.65,-1.55,7.85,-1.60,8.05,-1.55,7.45,-1.45,8.50,-0.85,8.70,-1.00,
   8.85,-1.15,9.00,-1.30,9.10,-1.50,9.20,-1.40,9.30,-1.70,9.40,-1.90,9.45,-1.60,9.55,-2.10,9.60,-1.80,9.70,-1.95,9.30,-2.30,9.40,-2.45,
   7.35,-0.70,7.50,-0.75,7.65,-0.80,7.80,-0.85,7.95,-0.90,7.70,-1.55,7.95,-1.60,8.90,-1.40,9.05,-1.60,9.20,-1.75,9.35,-1.95,9.50,-1.90,
   9.60,-2.05,9.25,-2.10,9.35,-2.25],
  [7.30,-0.40,7.40,-0.50,7.50,-0.40,7.60,-0.55,7.70,-0.45,7.80,-0.60,7.90,-0.50,8.00,-0.65,8.10,-0.55,8.25,-0.60,7.35,-0.85,7.45,-1.05,
   7.55,-0.90,7.65,-1.20,7.75,-0.95,7.85,-1.30,7.95,-1.05,8.05,-1.45,8.15,-1.10,7.55,-1.55,7.75,-1.60,8.60,-0.80,8.80,-0.95,8.95,-1.10,
   9.10,-1.25,9.20,-1.45,9.30,-1.35,9.40,-1.60,9.50,-1.75,9.60,-1.55,9.70,-1.85,9.80,-1.70,9.90,-1.95,
   7.35,-0.65,7.50,-0.70,7.65,-0.75,7.80,-0.80,7.95,-0.85,7.65,-1.55,7.85,-1.50,9.00,-1.35,9.15,-1.50,9.30,-1.60,9.45,-1.70,9.55,-1.85,
   9.65,-1.75,9.75,-2.00,9.35,-1.80],
  [7.30,-0.30,7.40,-0.40,7.50,-0.30,7.60,-0.45,7.70,-0.35,7.80,-0.50,7.90,-0.40,8.00,-0.55,8.10,-0.45,7.35,-0.70,7.45,-0.85,7.55,-0.75,
   7.65,-0.95,7.75,-0.80,7.85,-1.05,7.95,-0.85,8.10,-1.10,7.60,-1.20,8.50,-0.80,8.70,-0.95,8.85,-1.10,9.00,-1.30,9.10,-1.50,9.20,-1.40,
   9.30,-1.70,9.40,-1.85,9.45,-1.60,9.55,-2.00,9.60,-2.20,9.65,-2.45,9.70,-2.70,9.80,-2.00,
   7.35,-0.55,7.50,-0.60,7.65,-0.65,7.80,-0.70,7.95,-0.75,7.70,-1.15,7.85,-1.20,8.95,-1.45,9.10,-1.65,9.25,-1.80,9.35,-2.00,9.50,-1.85,
   9.55,-2.25,9.65,-2.10,9.45,-2.15],
  [7.30,-0.60,7.40,-0.45,7.50,-0.35,7.60,-0.50,7.70,-0.40,7.80,-0.55,7.90,-0.45,8.00,-0.60,8.10,-0.50,7.35,-0.85,7.45,-1.05,7.55,-0.90,
   7.65,-1.15,7.75,-0.95,7.85,-1.20,7.95,-1.00,8.10,-1.10,7.55,-1.40,7.75,-1.45,8.40,-1.00,8.50,-1.20,8.60,-1.10,8.70,-1.35,8.80,-1.25,
   8.90,-1.50,9.00,-1.40,9.10,-1.60,9.20,-1.55,9.30,-1.70,8.65,-1.55,8.85,-1.70,9.45,-1.65,
   7.35,-0.65,7.50,-0.70,7.65,-0.75,7.80,-0.80,7.95,-0.85,7.65,-1.40,8.45,-1.15,8.55,-1.35,8.65,-1.25,8.75,-1.50,8.85,-1.40,8.95,-1.60,
   9.05,-1.55,9.15,-1.70,8.75,-1.65,9.25,-1.70],
  [7.35,-0.40,7.45,-0.50,7.55,-0.35,7.65,-0.55,7.75,-0.45,7.85,-0.60,7.95,-0.50,8.05,-0.65,7.40,-0.80,7.50,-1.00,7.60,-0.85,7.70,-1.10,
   7.80,-0.90,7.90,-1.20,8.00,-0.95,8.10,-1.15,7.45,-1.40,7.55,-1.50,7.70,-1.45,7.85,-1.55,7.25,-1.00,8.20,-0.90,8.30,-1.05,8.40,-0.95,
   8.50,-1.15,8.60,-1.05,8.70,-1.25,8.80,-1.20,8.90,-1.40,9.00,-1.35,9.10,-1.55,9.20,-1.70,8.60,-1.50,8.75,-1.70,8.90,-1.80,9.25,-2.05,
   7.40,-0.60,7.55,-0.70,7.70,-0.75,7.85,-0.85,8.00,-0.80,7.50,-1.20,7.65,-1.30,7.80,-1.25,8.25,-1.10,8.35,-1.20,8.55,-1.25,8.65,-1.35,
   8.85,-1.30,9.05,-1.50,9.15,-1.70,8.45,-1.40],
  [7.35,-0.45,7.45,-0.60,7.55,-0.50,7.65,-0.70,7.75,-0.55,7.85,-0.75,7.40,-1.00,7.55,-1.15,7.70,-1.00,7.90,-1.25,8.00,-0.85,8.10,-1.00,
   8.20,-0.90,8.30,-1.10,8.40,-1.00,8.50,-1.20,8.60,-1.10,8.70,-1.30,8.80,-1.25,8.90,-1.45,9.00,-1.40,9.10,-1.55,9.25,-1.60,8.25,-1.40,
   8.45,-1.55,8.65,-1.70,8.85,-1.80,9.40,-1.75,
   8.05,-1.05,8.15,-1.15,8.35,-1.20,8.45,-1.30,8.55,-1.25,8.75,-1.40,8.95,-1.55,9.05,-1.50,8.20,-1.25,8.60,-1.45,8.85,-1.60,7.50,-0.80,7.70,-0.75],
  [7.30,-0.45,7.30,-0.80,7.30,-1.10,7.40,-0.35,7.45,-0.65,7.45,-1.00,7.55,-0.50,7.60,-0.85,7.60,-1.20,7.70,-0.40,7.75,-0.75,7.80,-1.05,
   7.90,-0.60,7.95,-0.95,8.10,-1.10,8.20,-1.00,8.25,-1.20,8.30,-1.05,8.35,-1.25,8.40,-1.10,8.45,-1.30,8.50,-1.15,8.55,-1.35,8.60,-1.20,
   8.65,-1.30,8.70,-1.20,8.30,-1.40,8.50,-1.45,8.80,-1.30,8.95,-1.35,8.40,-0.95,
   8.15,-1.15,8.25,-1.05,8.35,-1.15,8.45,-1.20,8.55,-1.25,8.65,-1.15,8.75,-1.25,8.40,-1.35,8.60,-1.40],
  [7.50,-0.75,7.60,-0.95,7.65,-0.70,7.75,-1.10,7.80,-0.85,7.90,-1.30,7.95,-0.95,8.05,-1.15,8.10,-1.50,8.15,-1.05,7.70,-1.40,8.30,-1.25,
   8.35,-1.40,8.40,-1.30,8.45,-1.50,8.50,-1.35,8.55,-1.55,8.60,-1.40,8.65,-1.50,8.70,-1.35,8.75,-1.55,8.80,-1.45,8.85,-1.65,8.95,-1.55,
   9.05,-1.70,9.20,-1.75,8.45,-1.70,
   8.40,-1.45,8.50,-1.55,8.60,-1.45,8.70,-1.50,8.80,-1.55,8.55,-1.40,8.65,-1.60,7.85,-0.75,7.70,-1.00],
  [7.35,-1.00,7.40,-1.20,7.45,-1.40,7.50,-1.10,7.55,-1.30,7.60,-1.50,7.65,-1.20,7.70,-1.40,7.75,-1.30,7.80,-1.50,7.85,-1.35,7.90,-1.50,
   7.95,-1.45,8.00,-1.50,7.40,-0.65,7.50,-0.55,7.60,-0.75,7.70,-0.50,7.80,-0.90,7.90,-1.05,8.05,-0.60,8.15,-1.35,8.20,-1.50,8.25,-1.40,
   8.30,-1.55,8.35,-1.45,8.45,-1.45,8.50,-1.50,8.72,-1.40,9.08,-1.45,8.25,-1.70,
   7.45,-1.35,7.55,-1.45,7.65,-1.35,7.75,-1.45,7.85,-1.45,7.95,-1.40,7.55,-1.20,7.70,-1.25,8.20,-1.45,8.40,-1.50],
  [7.45,-0.85,7.55,-0.70,7.60,-1.00,7.65,-0.55,7.70,-0.75,7.75,-0.45,7.80,-0.90,7.85,-0.65,7.90,-0.80,7.70,-1.20,8.20,-1.45,8.28,-1.45,
   8.36,-1.45,8.44,-1.45,8.52,-1.40,8.58,-1.35,8.66,-1.50],
  [7.44,-0.75,7.70,-1.00,7.86,-1.35,7.96,-1.25,8.12,-1.45,8.25,-1.45,8.40,-1.45,8.55,-1.45,8.70,-1.45],
  [7.78,-0.90,7.78,-1.15,7.78,-1.40,7.98,-1.05,8.04,-0.65,8.18,-0.65,8.22,-1.45,8.32,-1.45,8.72,-1.45]
];

const W = 237, H = 91.5;
const colStep = 275, rowStep = 129.8;

const x = d3.scaleLinear().domain([7, 11.74]).range([0, W]);
const y = d3.scaleLinear().domain([-4.6, 0]).range([H, 0]);
const colour = d3.scaleOrdinal().domain(["A", "B", "C"]).range(["#ff1a1a", "#22dd22", "#3b3bff"]);

const xMinor = d3.range(7, 11.74, 0.05);
const yMinor = d3.range(0, -4.6, -0.1);

const svg = d3.select("#chart").append("svg")
  .attr("width", 1079)
  .attr("height", 1401);
svg.append("rect").attr("width", 1079).attr("height", 1401).attr("fill", "#fff");

const smooth = d3.line().x(d => x(d[0])).y(d => y(d[1])).curve(d3.curveMonotoneX);
const straight = d3.line().x(d => x(d[0])).y(d => y(d[1]));

function styleAxis(sel) {
  sel.select(".domain").attr("stroke", "#000").attr("stroke-width", 1.5);
  sel.selectAll("line").attr("stroke", "#000").attr("stroke-width", 1);
  sel.selectAll("text").attr("fill", "#000")
    .style("font-family", "'Liberation Sans', sans-serif")
    .style("font-size", "5.5px").style("font-weight", "bold");
}

zLabels.forEach((z, i) => {
  const col = i % 4, row = Math.floor(i / 4);
  const g = svg.append("g")
    .attr("transform", "translate(" + (11 + colStep * col) + "," + (5 + rowStep * row) + ")");

  // minor ticks on all sides
  g.append("g").attr("transform", "translate(0," + H + ")")
    .call(d3.axisBottom(x).tickValues(xMinor).tickSize(-2).tickSizeOuter(0).tickFormat(""))
    .call(styleAxis);
  g.append("g")
    .call(d3.axisTop(x).tickValues(xMinor).tickSize(-2).tickSizeOuter(0).tickFormat(""))
    .call(styleAxis);
  g.append("g")
    .call(d3.axisLeft(y).tickValues(yMinor).tickSize(-2).tickSizeOuter(0).tickFormat(""))
    .call(styleAxis);
  g.append("g").attr("transform", "translate(" + W + ",0)")
    .call(d3.axisRight(y).tickValues(yMinor).tickSize(-2).tickSizeOuter(0).tickFormat(""))
    .call(styleAxis);

  // major ticks
  g.append("g").attr("transform", "translate(0," + H + ")")
    .call(d3.axisBottom(x).tickValues(xTicks).tickSize(-4).tickSizeOuter(0).tickPadding(1).tickFormat(d3.format(".2f")))
    .call(styleAxis);
  g.append("g")
    .call(d3.axisTop(x).tickValues(xTicks).tickSize(-4).tickSizeOuter(0).tickFormat(""))
    .call(styleAxis);
  g.append("g")
    .call(d3.axisLeft(y).tickValues(yTicks).tickSize(-4).tickSizeOuter(0).tickPadding(1).tickFormat(d3.format(".1f")))
    .call(styleAxis);
  g.append("g").attr("transform", "translate(" + W + ",0)")
    .call(d3.axisRight(y).tickValues(yTicks).tickSize(-4).tickSizeOuter(0).tickFormat(""))
    .call(styleAxis);

  // galaxies
  const flat = galaxyPoints[i];
  const pts = d3.range(0, flat.length, 2).map(k => [flat[k], flat[k + 1]]);
  g.selectAll("rect.pt").data(pts).enter().append("rect")
    .attr("class", "pt")
    .attr("x", d => x(d[0]) - 1.6)
    .attr("y", d => y(d[1]) - 1.2)
    .attr("width", 3.2)
    .attr("height", 2.4)
    .attr("fill", "#000");

  // fitted function: smooth curve plus straight drops to the axis at both ends
  const c = fitCurves[i];
  if (c) {
    const first = c[0], last = c[c.length - 1];
    const d = straight([[first[0], -4.6], first]) +
      smooth(c) +
      straight([last, [last[0], -4.6]]);
    g.append("path")
      .attr("d", d)
      .attr("fill", "none")
      .attr("stroke", colour(fitSet[i]))
      .attr("stroke-width", 1.3)
      .attr("stroke-dasharray", fitDashed.includes(i) ? "9,4" : null);
  }

  // redshift label
  g.append("text").attr("x", 159).attr("y", 21)
    .style("font-family", "'DejaVu Serif', serif").style("font-size", "17px")
    .text("z");
  g.append("text").attr("x", 220).attr("y", 21).attr("text-anchor", "end")
    .style("font-family", "'DejaVu Serif', serif").style("font-size", "17px")
    .text(z);
});
</script>
</body>
</html>
